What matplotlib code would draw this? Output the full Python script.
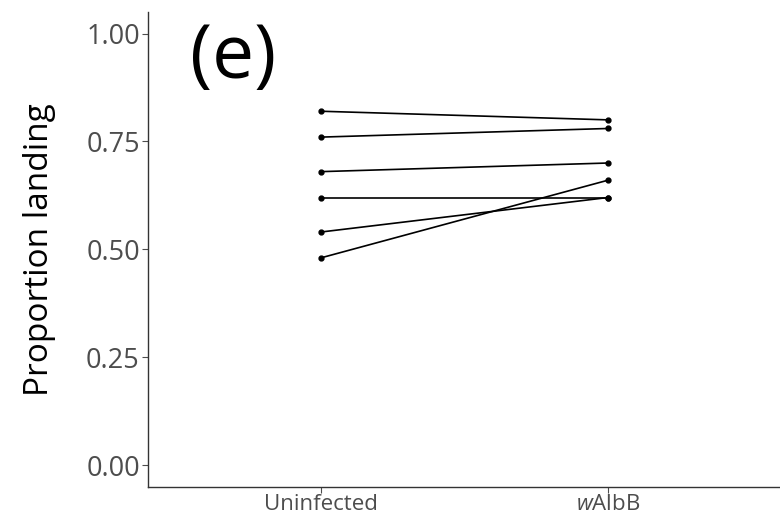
import numpy as np
import matplotlib.pyplot as plt

groups = ["Uninfected", "$\\mathit{w}$AlbB"]
uninfected = [0.82, 0.76, 0.68, 0.62, 0.54, 0.48]
walbb = [0.80, 0.78, 0.70, 0.62, 0.62, 0.66]
yticks = [0.00, 0.25, 0.50, 0.75, 1.00]

plt.rcParams['font.family'] = ['Open Sans', 'DejaVu Sans']
plt.rcParams['mathtext.fontset'] = 'custom'
plt.rcParams['mathtext.rm'] = 'Open Sans'
plt.rcParams['mathtext.it'] = 'Open Sans:italic'

fig = plt.figure(figsize=(7.8, 5.2), dpi=100)
fig.set_facecolor('white')
ax = fig.add_axes([0.19, 0.064, 0.81, 0.913])

xpos = np.arange(1, len(groups) + 1)
for a, b in zip(uninfected, walbb):
    ax.plot(xpos, [a, b], color='black', lw=1.2, marker='o', ms=3.5)

ax.set_xlim(0.4, 2.6)
ax.set_ylim(-0.05, 1.05)
ax.set_xticks(xpos)
ax.set_xticklabels(groups, fontsize=16, color='#4D4D4D')
ax.set_yticks(yticks)
ax.set_yticklabels([f"{v:.2f}" for v in yticks], fontsize=19.5, color='#4D4D4D')
ax.tick_params(axis='y', length=4, color='#4D4D4D', width=0.8, pad=2)
ax.tick_params(axis='x', length=4, color='#4D4D4D', width=0.8, pad=1.5)
ax.set_ylabel("Proportion landing", fontsize=24, labelpad=22)

for s in ['top', 'right']:
    ax.spines[s].set_visible(False)
for s in ['left', 'bottom']:
    ax.spines[s].set_color('#333333')
    ax.spines[s].set_linewidth(1.0)

ax.text(0.545, 1.03, "(e)", fontsize=54, va='top', ha='left')

fig.savefig("out.png", dpi=100)
